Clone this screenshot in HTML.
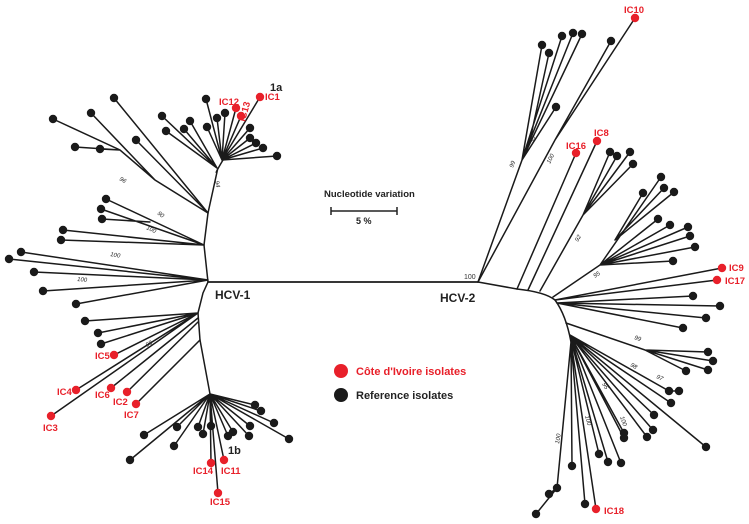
<!DOCTYPE html>
<html><head><meta charset="utf-8"><style>
html,body{margin:0;padding:0;background:#fff;}
svg{display:block;font-family:"Liberation Sans",Arial,sans-serif;}
.l{stroke:#1a1a1a;stroke-width:1.5;fill:none;stroke-linecap:round}
.b circle,.r circle{r:4.2}
.b{fill:#1a1a1a}.r{fill:#e8202a}
.rt{fill:#e8202a;font-weight:bold;font-size:9.5px}
.bs{font-size:6px;fill:#222;font-style:italic}
</style></head><body>
<svg width="749" height="524" viewBox="0 0 749 524">
<g class="l">
<path d="M208 282 L478 282" stroke-width="1.8"/>
<path d="M223 160 Q214 175 217 172 L208 213 L204 245 L208 282 L203 293 L198 313 L200 340 L210 394"/>
<path d="M222 160 L206 99 M222 160 L225 113 M222 160 L217 118 M222 160 L207 127 M222 160 L236 108 M222 160 L241 116 M222 160 L260 97 M222 160 L250 128 M222 160 L250 138 M222 160 L256 143 M222 160 L263 148 M222 160 L277 156"/>
<path d="M217 168 L162 116 M217 168 L190 121 M217 168 L166 131 M217 168 L184 129"/>
<path d="M208 213 L114 98 M208 213 L136 140 M208 213 L155 180 L91 113 M155 180 L120 150 L53 119 M120 150 L75 147 M120 150 L100 149"/>
<path d="M204 245 L106 199 M204 245 L101 209 M150 222 L102 219 M204 245 L63 230 M204 245 L61 240"/>
<path d="M208 280 L21 252 M208 280 L9 259 M208 280 L34 272 M208 280 L43 291 M208 280 L76 304"/>
<path d="M198 313 L85 321 M198 313 L98 333 M198 313 L101 344 M198 313 L114 355 M198 313 L76 390 M198 313 L51 416 M198 318 L111 388 M198 322 L127 392 M200 340 L136 404"/>
<path d="M210 394 L144 435 M210 394 L130 460 M210 394 L174 446 M210 394 L177 427 M210 394 L198 427 M210 394 L203 434 M210 394 L211 426 M210 394 L211 463 M210 394 L218 493 M210 394 L224 460 M210 394 L228 436 M210 394 L233 432 M210 394 L249 436 M210 394 L250 426 M210 394 L274 423 M210 394 L289 439 M210 394 L255 405 M210 394 L261 411"/>
<path d="M478 282 L517 289 Q545 292 555 300 Q566 315 571 342"/>
<path d="M478 282 L522 160 L542 45 M530 140 L549 53 M522 160 L562 36 M522 160 L573 33 M522 160 L582 34 M522 160 L556 107"/>
<path d="M478 282 L555 140 L611 41 M555 140 L635 18"/>
<path d="M517 289 L576 153 M528 290 L597 141"/>
<path d="M540 291 L583 215 L610 152 M583 215 L617 156 M583 215 L630 152 M583 215 L633 164"/>
<path d="M553 297 L600 265 L661 177 M615 240 L643 193 M615 240 L664 188 M615 240 L674 192 M600 265 L658 219 M600 265 L670 225 M600 265 L688 227 M600 265 L690 236 M600 265 L695 247 M600 265 L673 261"/>
<path d="M555 300 L722 268 M555 300 L717 280 M557 303 L693 296 M557 303 L720 306 M557 303 L706 318 M557 303 L683 328"/>
<path d="M566 323 L645 350 L708 352 M645 350 L713 361 M645 350 L708 370 M645 350 L686 371"/>
<path d="M570 335 L669 391 L679 391 M570 335 L671 403 M570 335 L654 415 M570 335 L653 430 M570 335 L647 437 M570 335 L706 447 M570 335 L624 433 M570 335 L624 438 M570 335 L621 463 M570 335 L608 462 M570 335 L599 454 M571 342 L572 466 M571 342 L585 504 M571 342 L596 509 M571 342 L557 488 L549 494 M557 488 L536 514"/>
</g>
<g class="b">
<circle cx="206" cy="99" r="4.2"/><circle cx="225" cy="113" r="4.2"/><circle cx="217" cy="118" r="4.2"/><circle cx="207" cy="127" r="4.2"/><circle cx="250" cy="128" r="4.2"/><circle cx="250" cy="138" r="4.2"/><circle cx="256" cy="143" r="4.2"/><circle cx="263" cy="148" r="4.2"/><circle cx="277" cy="156" r="4.2"/>
<circle cx="162" cy="116" r="4.2"/><circle cx="190" cy="121" r="4.2"/><circle cx="166" cy="131" r="4.2"/><circle cx="184" cy="129" r="4.2"/>
<circle cx="114" cy="98" r="4.2"/><circle cx="136" cy="140" r="4.2"/><circle cx="91" cy="113" r="4.2"/><circle cx="53" cy="119" r="4.2"/><circle cx="75" cy="147" r="4.2"/><circle cx="100" cy="149" r="4.2"/>
<circle cx="106" cy="199" r="4.2"/><circle cx="101" cy="209" r="4.2"/><circle cx="102" cy="219" r="4.2"/><circle cx="63" cy="230" r="4.2"/><circle cx="61" cy="240" r="4.2"/>
<circle cx="21" cy="252" r="4.2"/><circle cx="9" cy="259" r="4.2"/><circle cx="34" cy="272" r="4.2"/><circle cx="43" cy="291" r="4.2"/><circle cx="76" cy="304" r="4.2"/>
<circle cx="85" cy="321" r="4.2"/><circle cx="98" cy="333" r="4.2"/><circle cx="101" cy="344" r="4.2"/>
<circle cx="144" cy="435" r="4.2"/><circle cx="130" cy="460" r="4.2"/><circle cx="174" cy="446" r="4.2"/><circle cx="177" cy="427" r="4.2"/><circle cx="198" cy="427" r="4.2"/><circle cx="203" cy="434" r="4.2"/><circle cx="211" cy="426" r="4.2"/><circle cx="228" cy="436" r="4.2"/><circle cx="233" cy="432" r="4.2"/><circle cx="249" cy="436" r="4.2"/><circle cx="250" cy="426" r="4.2"/><circle cx="274" cy="423" r="4.2"/><circle cx="289" cy="439" r="4.2"/><circle cx="255" cy="405" r="4.2"/><circle cx="261" cy="411" r="4.2"/>
<circle cx="542" cy="45" r="4.2"/><circle cx="549" cy="53" r="4.2"/><circle cx="562" cy="36" r="4.2"/><circle cx="573" cy="33" r="4.2"/><circle cx="582" cy="34" r="4.2"/><circle cx="556" cy="107" r="4.2"/><circle cx="611" cy="41" r="4.2"/>
<circle cx="610" cy="152" r="4.2"/><circle cx="617" cy="156" r="4.2"/><circle cx="630" cy="152" r="4.2"/><circle cx="633" cy="164" r="4.2"/>
<circle cx="661" cy="177" r="4.2"/><circle cx="643" cy="193" r="4.2"/><circle cx="664" cy="188" r="4.2"/><circle cx="674" cy="192" r="4.2"/><circle cx="658" cy="219" r="4.2"/><circle cx="670" cy="225" r="4.2"/><circle cx="688" cy="227" r="4.2"/><circle cx="690" cy="236" r="4.2"/><circle cx="695" cy="247" r="4.2"/><circle cx="673" cy="261" r="4.2"/>
<circle cx="693" cy="296" r="4.2"/><circle cx="720" cy="306" r="4.2"/><circle cx="706" cy="318" r="4.2"/><circle cx="683" cy="328" r="4.2"/>
<circle cx="708" cy="352" r="4.2"/><circle cx="713" cy="361" r="4.2"/><circle cx="708" cy="370" r="4.2"/><circle cx="686" cy="371" r="4.2"/>
<circle cx="679" cy="391" r="4.2"/><circle cx="669" cy="391" r="4.2"/><circle cx="671" cy="403" r="4.2"/><circle cx="654" cy="415" r="4.2"/><circle cx="653" cy="430" r="4.2"/><circle cx="647" cy="437" r="4.2"/><circle cx="706" cy="447" r="4.2"/><circle cx="624" cy="433" r="4.2"/><circle cx="624" cy="438" r="4.2"/><circle cx="621" cy="463" r="4.2"/><circle cx="608" cy="462" r="4.2"/><circle cx="599" cy="454" r="4.2"/><circle cx="572" cy="466" r="4.2"/><circle cx="585" cy="504" r="4.2"/><circle cx="557" cy="488" r="4.2"/><circle cx="549" cy="494" r="4.2"/><circle cx="536" cy="514" r="4.2"/>
<circle cx="341" cy="395" r="7" style="r:7"/>
</g>
<g class="r">
<circle cx="236" cy="108" r="4.2"/><circle cx="241" cy="116" r="4.2"/><circle cx="260" cy="97" r="4.2"/>
<circle cx="114" cy="355" r="4.2"/><circle cx="76" cy="390" r="4.2"/><circle cx="51" cy="416" r="4.2"/><circle cx="111" cy="388" r="4.2"/><circle cx="127" cy="392" r="4.2"/><circle cx="136" cy="404" r="4.2"/>
<circle cx="211" cy="463" r="4.2"/><circle cx="218" cy="493" r="4.2"/><circle cx="224" cy="460" r="4.2"/>
<circle cx="635" cy="18" r="4.2"/><circle cx="576" cy="153" r="4.2"/><circle cx="597" cy="141" r="4.2"/><circle cx="722" cy="268" r="4.2"/><circle cx="717" cy="280" r="4.2"/><circle cx="596" cy="509" r="4.2"/>
<circle cx="341" cy="371" r="7" style="r:7"/>
</g>
<g class="rt">
<text x="265" y="100">IC1</text><text x="219" y="105">IC12</text>
<text x="245" y="122" transform="rotate(-75 245 122)">IC13</text>
<text x="95" y="359">IC5</text><text x="57" y="395">IC4</text><text x="43" y="431">IC3</text><text x="95" y="398">IC6</text><text x="113" y="405">IC2</text><text x="124" y="418">IC7</text>
<text x="193" y="474">IC14</text><text x="221" y="474">IC11</text><text x="210" y="505">IC15</text>
<text x="624" y="13">IC10</text><text x="566" y="149">IC16</text><text x="594" y="136">IC8</text>
<text x="729" y="271">IC9</text><text x="725" y="284">IC17</text><text x="604" y="514">IC18</text>
</g>
<text x="270" y="91" font-size="11" font-weight="bold" fill="#222">1a</text>
<text x="228" y="454" font-size="11" font-weight="bold" fill="#222">1b</text>
<text x="215" y="299" font-size="12" font-weight="bold" fill="#222">HCV-1</text>
<text x="440" y="302" font-size="12" font-weight="bold" fill="#222">HCV-2</text>
<text x="464" y="279" font-size="7" fill="#333">100</text>
<text x="324" y="197" font-size="9.5" font-weight="bold" fill="#222">Nucleotide variation</text>
<path d="M331 211 H397 M331 207 V215 M397 207 V215" stroke="#222" stroke-width="1.5"/>
<text x="356" y="224" font-size="9" font-weight="bold" fill="#222">5 %</text>
<text x="356" y="375" font-size="11" font-weight="bold" fill="#e8202a">Côte d'Ivoire isolates</text>
<text x="356" y="399" font-size="11" font-weight="bold" fill="#222">Reference isolates</text>
<g class="bs">
<text x="119" y="180" transform="rotate(30 119 180)">96</text>
<text x="157" y="214" transform="rotate(38 157 214)">90</text>
<text x="146" y="229" transform="rotate(25 146 229)">100</text>
<text x="110" y="256" transform="rotate(10 110 256)">100</text>
<text x="77" y="281" transform="rotate(5 77 281)">100</text>
<text x="215" y="181" transform="rotate(80 215 181)">94</text>
<text x="147" y="347" transform="rotate(-30 147 347)">98</text>
<text x="513" y="168" transform="rotate(-70 513 168)">99</text>
<text x="533" y="143" transform="rotate(-70 533 143)">95</text>
<text x="550" y="164" transform="rotate(-65 550 164)">100</text>
<text x="578" y="242" transform="rotate(-60 578 242)">92</text>
<text x="595" y="278" transform="rotate(-35 595 278)">95</text>
<text x="634" y="339" transform="rotate(20 634 339)">99</text>
<text x="630" y="366" transform="rotate(30 630 366)">98</text>
<text x="656" y="378" transform="rotate(25 656 378)">97</text>
<text x="602" y="384" transform="rotate(60 602 384)">95</text>
<text x="620" y="417" transform="rotate(70 620 417)">100</text>
<text x="585" y="416" transform="rotate(75 585 416)">100</text>
<text x="559" y="444" transform="rotate(-80 559 444)">100</text>
</g>
</svg>
</body></html>
